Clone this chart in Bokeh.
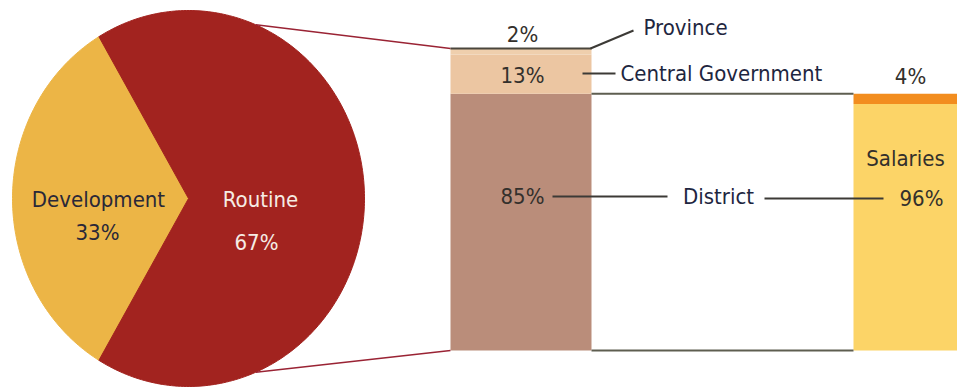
import math
from bokeh.plotting import figure
from bokeh.models import Range1d
from bokeh.core.properties import value
from bokeh.embed import file_html
from bokeh.resources import INLINE

# ---- data ----
pie_labels = ["Development", "Routine"]
pie_values = [33, 67]
source_labels = ["District", "Central Government", "Province"]
source_values = [85, 13, 2]
use_labels = ["Salaries", "Other"]
use_values = [96, 4]

# ---- styles ----
FONT = value("DejaVu Sans Condensed")
FS = "22px"
pie_colors = ["#ecb546", "#a2231f"]
src_colors = ["#ba8d7a", "#ecc6a2", "#efcfad"]
use_colors = ["#fcd467", "#f28d1f"]
NAVY = "#1e2640"
DARK = "#33302c"

W, H = 957, 389
p = figure(width=W, height=H, output_backend="svg", toolbar_location=None,
           x_range=Range1d(0, W), y_range=Range1d(H, 0), min_border=0)
p.axis.visible = False
p.grid.visible = False
p.outline_line_color = None
p.background_fill_color = "white"

# ---- pie (slightly elliptical) ----
cx, cy, rx, ry = 188, 198, 176, 188
def ell(t):
    r = math.radians(t)
    return cx + rx * math.cos(r), cy - ry * math.sin(r)

start = 180 - pie_values[0] * 3.6 / 2
xs_all, ys_all = [], []
a = start
for v in pie_values:
    b = a + v * 3.6
    n = max(int(v * 3.6), 2)
    pts = [ell(a + (b - a) * i / n) for i in range(n + 1)]
    xs_all.append([cx] + [q[0] for q in pts])
    ys_all.append([cy] + [q[1] for q in pts])
    a = b
p.patches(xs_all, ys_all, fill_color=pie_colors, line_color=pie_colors, line_width=1)

# pie labels
p.text([98, 260], [199, 199], text=pie_labels, text_font=FONT, text_font_size=FS,
       text_align="center", text_baseline="middle", text_color=["#2a2838", "#f6ece4"])
p.text([97, 256], [232, 242], text=[f"{v}%" for v in pie_values], text_font=FONT,
       text_font_size=FS, text_align="center", text_baseline="middle",
       text_color=["#2a2838", "#f6ece4"])

# ---- stacked source bar ----
bx0, bx1 = 450, 591
bar_bottom, bar_top = 350, 48
k = (bar_bottom - bar_top) / sum(source_values)
bots, tops = [], []
cur = bar_bottom
for v in source_values:
    bots.append(cur)
    cur = cur - v * k
    tops.append(cur)
p.quad(left=bx0, right=bx1, bottom=bots, top=tops, fill_color=src_colors, line_color=None)
district_top = tops[0]

# ---- salaries bar (breakdown of district) ----
sx0, sx1 = 853, 960
k2 = (bar_bottom - district_top) / sum(use_values)
ub, ut = [], []
cur = bar_bottom
for v in use_values:
    ub.append(cur)
    cur = cur - v * k2
    ut.append(cur)
p.quad(left=sx0, right=sx1, bottom=ub, top=ut, fill_color=use_colors, line_color=None)

# connector lines pie -> bar
tx, ty = ell(67.5)
bxx, byy = ell(-67.5)
p.segment(x0=[tx, bxx], y0=[ty, byy], x1=[bx0, bx0], y1=[bar_top, bar_bottom],
          line_color="#9a2334", line_width=1.5)
# top line of bar
p.segment(x0=[bx0], y0=[bar_top], x1=[bx1], y1=[bar_top], line_color="#4a463c", line_width=2)
# bar -> salaries lines
p.segment(x0=[bx1, bx1], y0=[district_top, bar_bottom], x1=[sx0, sx0], y1=[ut[-1], bar_bottom],
          line_color="#5e5e50", line_width=2)

# leader lines
p.segment(x0=[590, 582, 552, 764], y0=[48, 73, 196, 198],
          x1=[633, 615, 667, 883], y1=[30, 73, 196, 198],
          line_color="#3c3a36", line_width=2)

# percentage labels
p.text([522, 522, 522], [34, 75, 196],
       text=[f"{source_values[2]}%", f"{source_values[1]}%", f"{source_values[0]}%"],
       text_font=FONT, text_font_size=FS, text_align="center", text_baseline="middle",
       text_color=DARK)
p.text([910, 921], [76, 198], text=[f"{use_values[1]}%", f"{use_values[0]}%"],
       text_font=FONT, text_font_size=FS, text_align="center", text_baseline="middle",
       text_color=DARK)
p.text([905], [158], text=[use_labels[0]], text_font=FONT, text_font_size=FS,
       text_align="center", text_baseline="middle", text_color=DARK)

# category labels
p.text([643, 620], [27, 73], text=[source_labels[2], source_labels[1]], text_font=FONT,
       text_font_size=FS, text_align="left", text_baseline="middle", text_color=NAVY)
p.text([718], [196], text=[source_labels[0]], text_font=FONT, text_font_size=FS,
       text_align="center", text_baseline="middle", text_color=NAVY)

open("out.html", "w").write(file_html(p, INLINE))
